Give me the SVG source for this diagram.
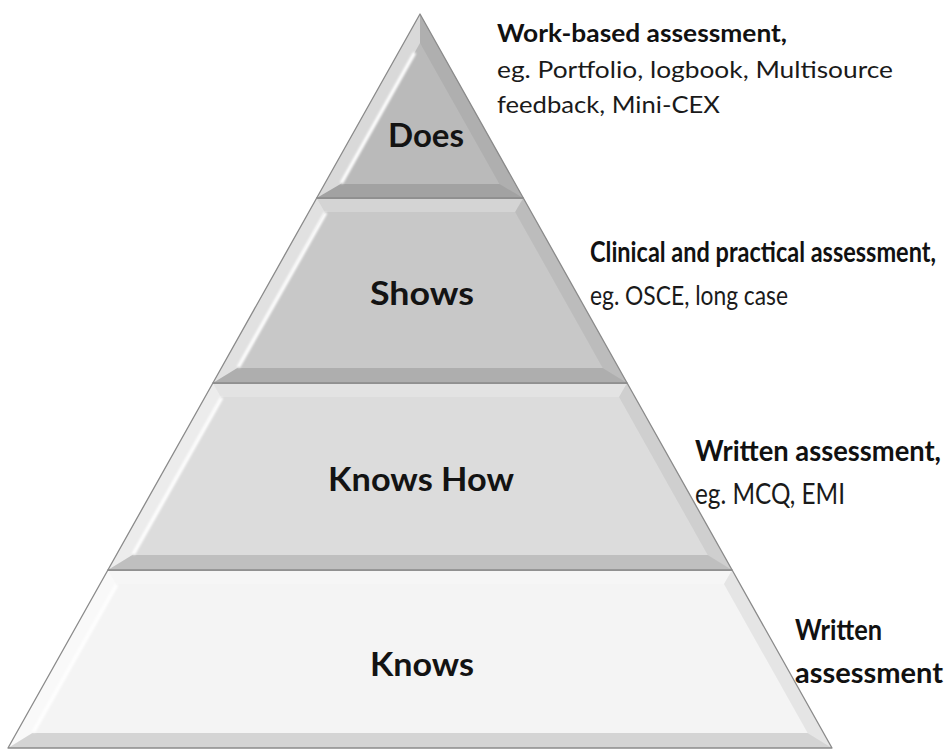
<svg xmlns="http://www.w3.org/2000/svg" width="950" height="755" viewBox="0 0 950 755">
<defs>
<filter id="blur" x="-20%" y="-20%" width="140%" height="140%"><feGaussianBlur stdDeviation="1.2"/></filter>
<filter id="soft" x="-5%" y="-5%" width="110%" height="110%"><feGaussianBlur stdDeviation="0.6"/></filter>
</defs>
<style>
.edge{fill:none;stroke:#8a8a8a;stroke-width:1.3;stroke-linejoin:round}
.lf{fill:#fff;fill-opacity:.45}
.rf{fill:#000;fill-opacity:.06}
.bf{fill:#000;fill-opacity:.13}
.tf{fill:#fff;fill-opacity:.22}
.hl{fill:none;stroke:#fff;stroke-width:3.5;stroke-linecap:round;filter:url(#blur)}
.sep{stroke:#7a7a7a;stroke-width:2;filter:url(#soft)}
.lvl{font-family:Lato,"Liberation Sans",Arial,sans-serif;font-weight:bold;font-size:32px;fill:#131313;text-anchor:middle}
.lb{font-family:Lato,"Liberation Sans",Arial,sans-serif;fill:#1a1a1a}
.b{font-weight:bold;fill:#111}
</style>

<g id="level-knows">
<polygon points="107.9,570 732.1,570 832,748 8,748" fill="#f4f4f4"/>
<polygon class="tf" points="107.9,570 732.1,570 723.9,584 116.1,584"/>
<polygon class="lf" points="107.9,570 116.1,584 32.4,733 8,748"/>
<polygon class="rf" points="732.1,570 832,748 807.6,733 723.9,584"/>
<polygon class="bf" points="8,748 832,748 807.6,733 32.4,733"/>
<polyline class="hl" points="34,731 116,586"/>
<polygon class="edge" points="107.9,570 732.1,570 832,748 8,748"/>
<text class="lvl" x="422" y="676" textLength="104" lengthAdjust="spacingAndGlyphs">Knows</text>
</g>

<g id="level-knows-how">
<polygon points="212.9,383 627.1,383 732.1,570 107.9,570" fill="#dcdcdc"/>
<polygon class="tf" points="212.9,383 627.1,383 619,397 221,397"/>
<polygon class="lf" points="212.9,383 221,397 132.3,555 107.9,570"/>
<polygon class="rf" points="627.1,383 732.1,570 707.7,555 619,397"/>
<polygon class="bf" points="107.9,570 732.1,570 707.7,555 132.3,555"/>
<polyline class="hl" points="134,553 221,399"/>
<polygon class="edge" points="212.9,383 627.1,383 732.1,570 107.9,570"/>
<line class="sep" x1="109" y1="570" x2="731" y2="570"/>
<text class="lvl" x="421" y="491" textLength="186" lengthAdjust="spacingAndGlyphs">Knows How</text>
</g>

<g id="level-shows">
<polygon points="316.7,198 523.3,198 627.1,383 212.9,383" fill="#c8c8c8"/>
<polygon class="tf" points="316.7,198 523.3,198 515.1,212 324.9,212"/>
<polygon class="lf" points="316.7,198 324.9,212 237.3,368 212.9,383"/>
<polygon class="rf" points="523.3,198 627.1,383 602.7,368 515.1,212"/>
<polygon class="bf" points="212.9,383 627.1,383 602.7,368 237.3,368"/>
<polyline class="hl" points="239,366 325,214"/>
<polygon class="edge" points="316.7,198 523.3,198 627.1,383 212.9,383"/>
<line class="sep" x1="214" y1="383" x2="626" y2="383"/>
<text class="lvl" x="422" y="305" textLength="104" lengthAdjust="spacingAndGlyphs">Shows</text>
</g>

<g id="level-does">
<polygon points="420,14 523.3,198 316.7,198" fill="#bababa"/>
<polygon class="lf" points="420,14 316.7,198 340.6,184 420,43"/>
<polygon class="rf" points="420,14 420,43 499.4,184 523.3,198"/>
<polygon class="bf" points="316.7,198 523.3,198 499.4,184 340.6,184"/>
<polyline class="hl" points="342,182 414,54"/>
<polygon class="edge" points="420,14 523.3,198 316.7,198"/>
<line class="sep" x1="318" y1="198" x2="522" y2="198"/>
<text class="lvl" x="426" y="147" textLength="76" lengthAdjust="spacingAndGlyphs">Does</text>
</g>

<g id="label-does" class="lb" font-size="24">
<text class="b" x="497" y="42" textLength="290" lengthAdjust="spacingAndGlyphs">Work-based assessment,</text>
<text x="497" y="78" textLength="396" lengthAdjust="spacingAndGlyphs">eg. Portfolio, logbook, Multisource</text>
<text x="497" y="113" textLength="223" lengthAdjust="spacingAndGlyphs">feedback, Mini-CEX</text>
</g>

<g id="label-shows" class="lb">
<text class="b" font-size="21" transform="translate(590,262) scale(1,1.33)" x="0" y="0" textLength="346" lengthAdjust="spacingAndGlyphs">Clinical and practical assessment,</text>
<text font-size="23" transform="translate(590,305) scale(1,1.2)" x="0" y="0" textLength="198" lengthAdjust="spacingAndGlyphs">eg. OSCE, long case</text>
</g>

<g id="label-knows-how" class="lb">
<text class="b" font-size="25" transform="translate(695,461) scale(1,1.16)" x="0" y="0" textLength="246" lengthAdjust="spacingAndGlyphs">Written assessment,</text>
<text font-size="27" transform="translate(695,504) scale(1,1.07)" x="0" y="0" textLength="150" lengthAdjust="spacingAndGlyphs">eg. MCQ, EMI</text>
</g>

<g id="label-knows" class="lb" font-size="29">
<text class="b" x="795" y="640" textLength="87" lengthAdjust="spacingAndGlyphs">Written</text>
<text class="b" x="795" y="683" textLength="148" lengthAdjust="spacingAndGlyphs">assessment</text>
</g>
</svg>
